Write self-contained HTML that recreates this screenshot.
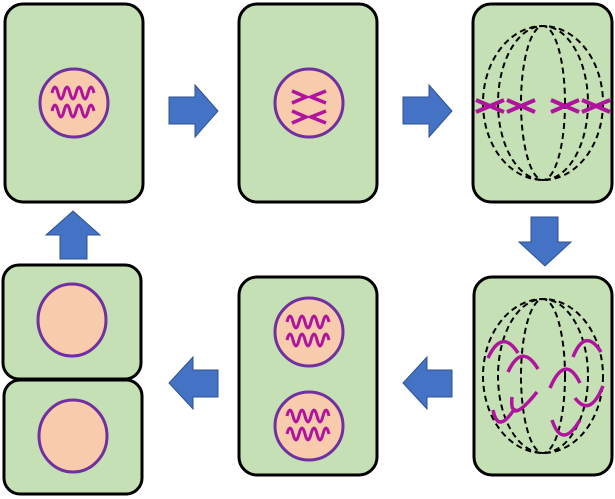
<!DOCTYPE html>
<html><head><style>html,body{margin:0;padding:0;background:#fff;}svg{display:block}</style></head>
<body>
<svg width="615" height="499" viewBox="0 0 615 499" xmlns="http://www.w3.org/2000/svg">
<defs>
<g id="wave"><path d="M-22,-8 q3,-12 6,0 t6,0 t6,0 t6,0 t6,0 t6,0 t6,0" fill="none" stroke="#b0149e" stroke-width="3"/><path d="M-22,10 q3,-12 6,0 t6,0 t6,0 t6,0 t6,0 t6,0 t6,0" fill="none" stroke="#b0149e" stroke-width="3"/></g>
<g id="xx"><path d="M-14,-6 L14,6 M-14,6 L14,-6" stroke="#b0149e" stroke-width="4" fill="none"/></g>
<g id="spindle" fill="none" stroke="#000" stroke-width="2" stroke-dasharray="6,4">
<ellipse cx="0" cy="0" rx="60" ry="77"/>
<ellipse cx="0" cy="0" rx="45" ry="77"/>
<ellipse cx="0" cy="0" rx="22" ry="77"/>
</g>
</defs>
<g fill="#c5e0b4" stroke="#000" stroke-width="3">
<rect x="5" y="4" width="138" height="198" rx="18"/>
<rect x="239" y="4" width="138" height="198" rx="18"/>
<rect x="473" y="4" width="139" height="198" rx="18"/>
<rect x="474" y="277" width="138" height="198" rx="18"/>
<rect x="239" y="277" width="138" height="198" rx="18"/>
<rect x="3" y="265" width="138" height="114" rx="16"/>
<rect x="4" y="380" width="138" height="114" rx="16"/>
</g>
<g fill="#f8cbad" stroke="#7030a0" stroke-width="3">
<circle cx="74" cy="103" r="34"/>
<circle cx="309" cy="103" r="34"/>
<circle cx="309" cy="332" r="34"/>
<circle cx="309" cy="426" r="34"/>
<ellipse cx="72" cy="320" rx="34" ry="36"/>
<ellipse cx="73" cy="436" rx="34" ry="36"/>
</g>
<use href="#wave" x="74" y="101"/>
<use href="#wave" x="309" y="330"/>
<use href="#wave" x="309" y="424"/>
<g stroke="#b0149e" stroke-width="3.5" fill="none">
<path d="M292,91 L306,97 L292,103 M326,91 L311,97 L326,103"/>
<path d="M292,111 L306,117 L292,123 M326,111 L311,117 L326,123"/>
</g>
<use href="#spindle" x="543" y="103"/>
<use href="#xx" x="490" y="106"/>
<use href="#xx" x="521" y="106"/>
<use href="#xx" x="565" y="106"/>
<use href="#xx" x="596" y="106"/>
<use href="#spindle" x="543" y="376"/>
<g stroke="#b0149e" stroke-width="3.5" fill="none">
<path d="M488,358 q14,-30 30,-5 M508,372 q14,-30 30,-3"/>
<path d="M512,397 q-3,30 25,-5 M493,410 q5,25 22,-2"/>
<path d="M550,388 q15,-35 30,-5 M573,357 q12,-30 28,-5 M575,398 q15,20 28,-12 M552,420 q10,30 28,0"/>
</g>
<g fill="#4472c4" stroke="#2f528f" stroke-width="1">
<polygon points="169,97 195,97 195,85 218,111 195,137 195,124 169,124"/>
<polygon points="403,97 429,97 429,85 452,111 429,137 429,124 403,124"/>
<polygon points="531,217 558,217 558,242 571,242 545,266 519,242 531,242"/>
<polygon points="218,370 193,370 193,357 169,383 193,409 193,397 218,397"/>
<polygon points="452,370 427,370 427,357 403,383 427,409 427,397 452,397"/>
<polygon points="60,259 87,259 87,235 100,235 73,211 46,235 60,235"/>
</g>
</svg>
</body></html>
